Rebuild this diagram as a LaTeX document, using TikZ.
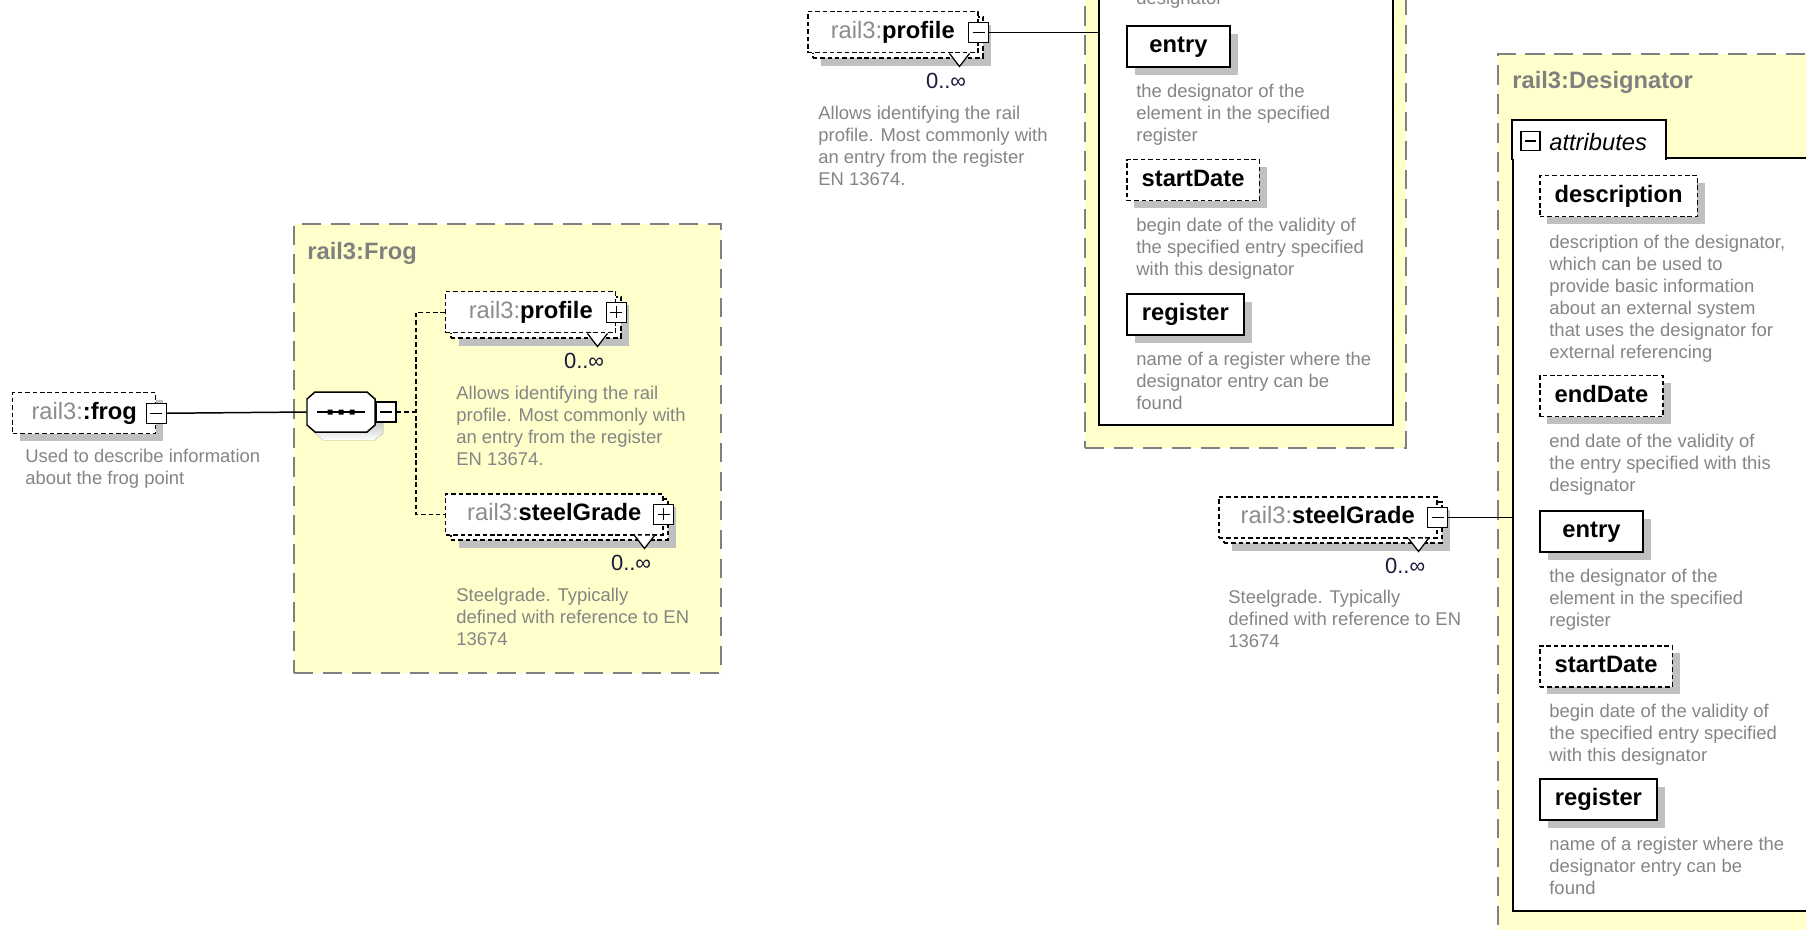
\documentclass[tikz,border=0pt]{standalone}
\usepackage{fontspec}
\setmainfont{Liberation Sans}
\definecolor{typeyellow}{HTML}{FFFFCC}
\definecolor{boxgray}{HTML}{808080}
\definecolor{shade}{HTML}{C0C0C0}
\definecolor{descgray}{HTML}{858585}
\definecolor{pregray}{HTML}{8C8C8C}
\definecolor{multnavy}{HTML}{1A1A3A}
\usetikzlibrary{positioning,shadows}
\newlength{\dpx}\setlength{\dpx}{0.02cm}
\newcommand{\qn}[1]{\textcolor{pregray}{rail3:}\textbf{#1}}

\begin{document}
\begin{tikzpicture}[x=0.02cm,y=-0.02cm,
    typebox/.style={draw=boxgray,fill=typeyellow,line width=1.1pt,dash pattern=on 11pt off 5.5pt,anchor=north west,inner sep=0pt},
    typetitle/.style={anchor=west,inner sep=0pt,text=boxgray,font=\fontsize{13.5}{16}\selectfont\bfseries,text height=9.8pt,text depth=2.7pt},
    body/.style={draw,line width=1.1pt,fill=white,inner sep=0pt},
    dashline/.style={line width=0.85pt,dash pattern=on 2.6pt off 1.6pt},
    single/.style={general shadow={fill=shade,shadow xshift=4.4pt,shadow yshift=-4.4pt}},
    multi/.style={general shadow={fill=shade,shadow xshift=7.4pt,shadow yshift=-7.4pt},
                  general shadow={draw=black,fill=white,dashline,shadow xshift=2.85pt,shadow yshift=-2.85pt}},
    elem/.style={draw,dashline,fill=white,anchor=north west,minimum height=41\dpx,inner sep=0pt,
                 font=\fontsize{13.5}{16}\selectfont,text height=9.8pt,text depth=2.7pt},
    attr/.style={draw,line width=1.1pt,fill=white,anchor=north west,minimum width=103\dpx,minimum height=41\dpx,
                 inner xsep=8.5pt,inner ysep=0pt,font=\fontsize{13.5}{16}\selectfont\bfseries,text height=9.8pt,text depth=2.7pt,single},
    optattr/.style={attr,dashline},
    expbox/.style={draw,line width=0.8pt,fill=white,minimum size=20\dpx,inner sep=0pt},
    expminus/.style={expbox,path picture={\draw[line width=0.8pt] ([xshift=4\dpx]path picture bounding box.west) -- ([xshift=-4\dpx]path picture bounding box.east);}},
    expplus/.style={expbox,path picture={\draw[line width=0.8pt] ([xshift=4\dpx]path picture bounding box.west) -- ([xshift=-4\dpx]path picture bounding box.east)
                                         ([yshift=-4\dpx]path picture bounding box.north) -- ([yshift=4\dpx]path picture bounding box.south);}},
    mult/.style={anchor=east,inner sep=0pt,text=multnavy,font=\fontsize{12.5}{15}\selectfont,text height=9pt,text depth=2.5pt},
    desc/.style={anchor=north west,align=left,inner sep=0pt,text=descgray,font=\fontsize{10.5}{12.5}\selectfont},
    conn/.style={line width=0.85pt}]
  \useasboundingbox (0,0) rectangle (1806,930);
  \clip (0,0) rectangle (1806,930);
  \fill[white] (0,0) rectangle (1806,930);

  % complex types
  \node[typebox,minimum width=427\dpx,minimum height=449\dpx] (frogT) at (293,223) {};
  \node[typetitle] (frogTtl) at ([shift={(14,30)}]frogT.north west) {rail3:Frog};
  \node[typebox,anchor=south west,minimum width=321\dpx,minimum height=900\dpx] (desgB) at (1084,449) {};
  \node[body,anchor=south west,minimum width=294\dpx,minimum height=900\dpx] (attrsB) at (1098,426) {};
  \node[typebox,minimum width=322\dpx,minimum height=881\dpx] (desgD) at (1497,53) {};
  \node[typetitle] (desgDtl) at ([shift={(15,29)}]desgD.north west) {rail3:Designator};
  \node[body,anchor=north west,minimum width=294\dpx,minimum height=753\dpx] (attrsD) at (1512,157) {};
  \node[fill=white,anchor=north west,inner sep=0pt,minimum width=153\dpx,minimum height=39\dpx] (tabD) at (1512,120) {};
  \draw[line width=1.1pt] (tabD.south west) |- (tabD.north east) -- (tabD.south east);
  \node[expminus,minimum size=19\dpx] (tabDexp) at (1530.5,141) {};
  \node[anchor=west,inner sep=0pt,font=\fontsize{13.5}{16}\selectfont\itshape] (tabDtxt) at (1549,142) {attributes};

  % frog and its sequence
  \node[elem,single,minimum width=143\dpx] (frog) at (12,392) {\textcolor{pregray}{rail3:}\textbf{:frog}};
  \node[expminus] (frogexp) at (frog.east) {};
  \node[desc] (frogd) at ([shift={(13,14)}]frog.south west) {Used to describe information\\about the frog point};
  \node[minimum width=68\dpx,minimum height=40\dpx,inner sep=0pt] (seq) at (341,412) {};
  \fill[shade,shift={(8,8)}] (315,392) -- (367,392) -- (375,399) -- (375,425) -- (367,432) -- (315,432) -- (307,425) -- (307,399) -- cycle;
  \draw[conn,fill=white] (315,392) -- (367,392) -- (375,399) -- (375,425) -- (367,432) -- (315,432) -- (307,425) -- (307,399) -- cycle;
  \draw[conn] (317,412) -- (365,412);
  \fill (327.5,409.5) rectangle (332.5,414.5) (338.5,409.5) rectangle (343.5,414.5) (349.5,409.5) rectangle (354.5,414.5);
  \node[expminus,right=0pt of seq] (seqexp) {};
  \coordinate (fork) at (416,412);

  \node[elem,multi,minimum width=170\dpx] (profA) at (445,291) {\qn{profile}};
  \node[expplus] (profAexp) at (profA.east) {};
  \draw[line width=0.7pt,fill=white] ([xshift=-29\dpx]profA.south east) -- ([shift={(-19,13)}]profA.south east) -- ([xshift=-9\dpx]profA.south east);
  \node[mult] (profAm) at ([shift={(-12,29)}]profA.south east) {0..∞};
  \node[desc] (profAd) at ([shift={(11,52)}]profA.south west) {Allows identifying the rail\\profile. Most commonly with\\an entry from the register\\EN 13674.};

  \node[elem,multi,minimum width=217\dpx] (stlA) at (445,493) {\qn{steelGrade}};
  \node[expplus] (stlAexp) at (stlA.east) {};
  \draw[line width=0.7pt,fill=white] ([xshift=-29\dpx]stlA.south east) -- ([shift={(-19,13)}]stlA.south east) -- ([xshift=-9\dpx]stlA.south east);
  \node[mult] (stlAm) at ([shift={(-12,29)}]stlA.south east) {0..∞};
  \node[desc] (stlAd) at ([shift={(11,52)}]stlA.south west) {Steelgrade. Typically\\defined with reference to EN\\13674};

  % expanded profile
  \node[elem,multi,minimum width=170\dpx] (profB) at (807,11) {\qn{profile}};
  \node[expminus] (profBexp) at (profB.east) {};
  \draw[line width=0.7pt,fill=white] ([xshift=-29\dpx]profB.south east) -- ([shift={(-19,13)}]profB.south east) -- ([xshift=-9\dpx]profB.south east);
  \node[mult] (profBm) at ([shift={(-12,29)}]profB.south east) {0..∞};
  \node[desc] (profBd) at ([shift={(11,52)}]profB.south west) {Allows identifying the rail\\profile. Most commonly with\\an entry from the register\\EN 13674.};

  \node[desc] (endBd) at (1136,-9) {designator};
  \node[attr] (entryB) at (1126,25) {entry};
  \node[desc] (entryBd) at ([shift={(10,16)}]entryB.south west) {the designator of the\\element in the specified\\register};
  \node[optattr] (startB) at (1126,159) {startDate};
  \node[desc] (startBd) at ([shift={(10,16)}]startB.south west) {begin date of the validity of\\the specified entry specified\\with this designator};
  \node[attr] (regB) at (1126,293) {register};
  \node[desc] (regBd) at ([shift={(10,16)}]regB.south west) {name of a register where the\\designator entry can be\\found};

  % expanded steelGrade
  \node[elem,multi,minimum width=218\dpx] (stlB) at (1218,496) {\qn{steelGrade}};
  \node[expminus] (stlBexp) at (stlB.east) {};
  \draw[line width=0.7pt,fill=white] ([xshift=-29\dpx]stlB.south east) -- ([shift={(-19,13)}]stlB.south east) -- ([xshift=-9\dpx]stlB.south east);
  \node[mult] (stlBm) at ([shift={(-12,29)}]stlB.south east) {0..∞};
  \node[desc] (stlBd) at ([shift={(10,51)}]stlB.south west) {Steelgrade. Typically\\defined with reference to EN\\13674};

  \node[optattr] (descD) at (1539,175) {description};
  \node[desc] (descDd) at ([shift={(10,17)}]descD.south west) {description of the designator,\\which can be used to\\provide basic information\\about an external system\\that uses the designator for\\external referencing};
  \node[optattr] (endD) at (1539,375) {endDate};
  \node[desc] (endDd) at ([shift={(10,16)}]endD.south west) {end date of the validity of\\the entry specified with this\\designator};
  \node[attr] (entryD) at (1539,510) {entry};
  \node[desc] (entryDd) at ([shift={(10,16)}]entryD.south west) {the designator of the\\element in the specified\\register};
  \node[optattr] (startD) at (1539,645) {startDate};
  \node[desc] (startDd) at ([shift={(10,16)}]startD.south west) {begin date of the validity of\\the specified entry specified\\with this designator};
  \node[attr] (regD) at (1539,778) {register};
  \node[desc] (regDd) at ([shift={(10,16)}]regD.south west) {name of a register where the\\designator entry can be\\found};

  % connectors
  \draw[conn] (frogexp.east) -- (seq.west);
  \draw[dashline] (seqexp.east) -- (fork);
  \draw[dashline] (profA.west) -| (fork) |- (stlA.west);
  \draw[conn] (profBexp.east) -- (profBexp.east -| attrsB.west);
  \draw[conn] (stlBexp.east) -- (stlBexp.east -| attrsD.west);
\end{tikzpicture}
\end{document}
